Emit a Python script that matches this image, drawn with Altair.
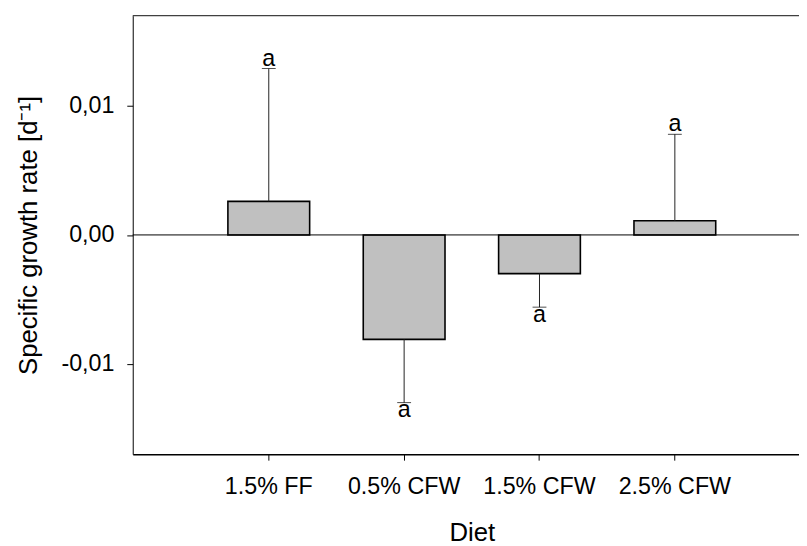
import altair as alt
import pandas as pd

diets = ["1.5% FF", "0.5% CFW", "1.5% CFW", "2.5% CFW"]
means = [0.0026, -0.0081, -0.0030, 0.0011]
errors = [0.0103, 0.0049, 0.0026, 0.0067]
letters = ["a", "a", "a", "a"]
y_ticks = [-0.01, 0.0, 0.01]

df = pd.DataFrame({"Diet": diets, "mean": means, "err": errors, "letter": letters})
df["end"] = [m + e if m >= 0 else m - e for m, e in zip(means, errors)]

FONT = "Liberation Sans"
FULL_W = 685
PLOT_H = 443
LBL = 23.5
TTL = 26

xenc = alt.X(
    "Diet:N",
    sort=diets,
    scale=alt.Scale(paddingInner=0.396, paddingOuter=0.703, round=False),
    axis=alt.Axis(
        title="Diet", titleFontSize=TTL, titleFont=FONT, titleFontWeight="normal",
        titleColor="black", titleX=FULL_W / 2, titleY=87, titleBaseline="alphabetic",
        titleAlign="center",
        labelFontSize=LBL, labelFont=FONT, labelColor="black", labelAngle=0,
        labelPadding=15, tickSize=6, tickColor="black", tickWidth=1,
        domainColor="black", domainWidth=1.6,
    ),
)

yscale = alt.Scale(domain=[-0.017, 0.017], nice=False, zero=False)
yaxis = alt.Axis(
    values=y_ticks,
    title="Specific growth rate [d⁻¹]",
    titleFontSize=TTL, titleFont=FONT, titleFontWeight="normal", titleColor="black",
    titleX=-97.5, titleY=PLOT_H / 2, titleAngle=-90, titleBaseline="alphabetic",
    titleAlign="center",
    labelExpr="replace(replace(format(datum.value, '.2f'), '.', ','), '\u2212', '-')",
    labelFontSize=LBL, labelFont=FONT, labelColor="black", labelPadding=13,
    tickSize=6, tickColor="black", tickWidth=1,
    domainColor="black", domainWidth=1, grid=False,
)

base = alt.Chart(df)

bars = base.mark_bar(fill="#c0c0c0", stroke="black", strokeWidth=1.6).encode(
    x=xenc,
    y=alt.Y("mean:Q", scale=yscale, axis=yaxis, stack=None),
    y2=alt.datum(0),
)

err = base.mark_rule(color="#222222", strokeWidth=1).encode(
    x=alt.X("Diet:N", sort=diets), y="mean:Q", y2="end:Q"
)

caps = base.mark_tick(size=14, thickness=1, color="black", orient="horizontal").encode(
    x=alt.X("Diet:N", sort=diets), y="end:Q"
)

lab_pos = base.transform_filter("datum.mean > 0").mark_text(
    baseline="alphabetic", dy=-3, fontSize=LBL, font=FONT, color="black"
).encode(x=alt.X("Diet:N", sort=diets), y="end:Q", text="letter:N")

lab_neg = base.transform_filter("datum.mean < 0").mark_text(
    baseline="alphabetic", dy=15, fontSize=LBL, font=FONT, color="black"
).encode(x=alt.X("Diet:N", sort=diets), y="end:Q", text="letter:N")

one = alt.Data(values=[{"v": 0}])

zero_line = alt.Chart(one).mark_rule(color="black", strokeWidth=1).encode(
    y=alt.datum(0), x=alt.value(0), x2=alt.value(FULL_W)
)

top_border = alt.Chart(one).mark_rule(color="#404040", strokeWidth=1.3).encode(
    y=alt.value(0), x=alt.value(0), x2=alt.value(FULL_W)
)

chart = alt.layer(bars, zero_line, err, caps, lab_pos, lab_neg, top_border).properties(
    width=FULL_W,
    height=PLOT_H,
    autosize=alt.AutoSizeParams(type="none"),
    padding={"left": 126, "top": 5, "right": -12, "bottom": 90},
).configure(font=FONT).configure_view(stroke=None)

chart.save("out.html", embed_options={"renderer": "svg", "actions": False})
